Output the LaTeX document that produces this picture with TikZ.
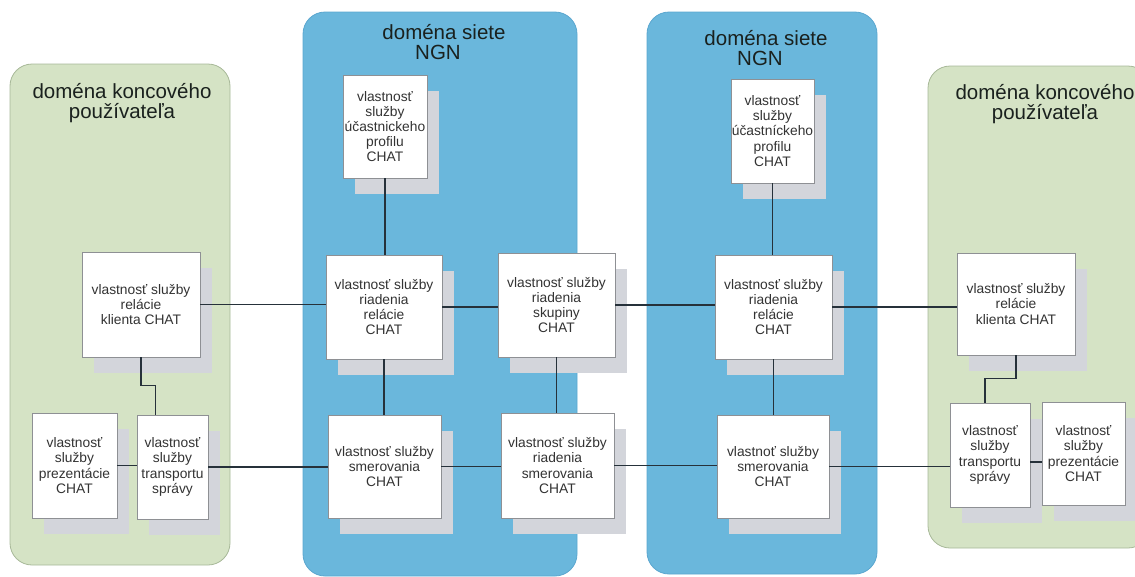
\documentclass[tikz,border=0pt]{standalone}
\usepackage{fontspec}
\setmainfont{Liberation Sans}
\usetikzlibrary{shadows}

\definecolor{userfill}{HTML}{D5E3C5}
\definecolor{userline}{HTML}{A7B898}
\definecolor{netfill}{HTML}{6AB7DC}
\definecolor{netline}{HTML}{5AA6CF}
\definecolor{shadowgray}{HTML}{D3D5DB}
\definecolor{boxline}{HTML}{8E9094}
\definecolor{wire}{HTML}{26313A}
\definecolor{boxtext}{HTML}{333333}
\definecolor{titletext}{HTML}{1A211E}

\tikzset{
  userdomain/.style={fill=userfill, draw=userline, line width=0.8pt, rounded corners=22pt},
  netdomain/.style={fill=netfill, draw=netline, line width=0.8pt, rounded corners=22pt},
  domtitle/.style={font=\fontsize{20.5}{20.5}\selectfont, text=titletext, align=center, inner sep=0pt},
  feature/.style={draw=boxline, line width=0.6pt, fill=white, align=center,
    text=boxtext, font=\fontsize{13.8}{15.2}\selectfont, inner sep=0pt,
    drop shadow={shadow xshift=12pt, shadow yshift=-16pt, fill=shadowgray, draw=none, opacity=1}},
  link/.style={draw=wire, line width=1.5pt}
}

\begin{document}
\begin{tikzpicture}[x=1pt, y=-1pt]
  \useasboundingbox (0,0) rectangle (1135,576);
  \clip (0,0) rectangle (1135,576);

  % domains
  \draw[userdomain] (10,64) rectangle (230,565);
  \draw[netdomain] (303,12) rectangle (577,576);
  \draw[netdomain] (647,12) rectangle (877,574);
  \draw[userdomain] (928,66) rectangle (1150,548);

  \node[domtitle] (tuserL) at (122,103) {doména koncového\\používateľa};
  \node[domtitle] (tnetA) at (444,42) {doména siete\\NGN\hspace*{12pt}};
  \node[domtitle] (tnetB) at (766,48) {doména siete\\NGN\hspace*{12pt}};
  \node[domtitle] (tuserR) at (1045,104) {doména koncového\\používateľa};

  % left end-user domain
  \node[feature, minimum width=118pt, minimum height=105pt] (lrel) at (141,304.5)
    {vlastnosť služby\\relácie\\klienta CHAT};
  \node[feature, minimum width=85pt, minimum height=105pt] (lprez) at (74.5,465.5)
    {vlastnosť\\služby\\prezentácie\\CHAT};
  \node[feature, minimum width=71pt, minimum height=104pt] (ltrans) at (172.5,467)
    {vlastnosť\\služby\\transportu\\správy};

  % first NGN domain
  \node[feature, minimum width=84pt, minimum height=103pt] (aprof) at (385,126.5)
    {vlastnosť\\služby\\účastnickeho\\profilu\\CHAT};
  \node[feature, minimum width=116pt, minimum height=104pt] (arel) at (384,307)
    {vlastnosť služby\\riadenia\\relácie\\CHAT};
  \node[feature, minimum width=117pt, minimum height=104pt] (askup) at (556.5,305)
    {vlastnosť služby\\riadenia\\skupiny\\CHAT};
  \node[feature, minimum width=113pt, minimum height=103pt] (asmer) at (384.5,466.5)
    {vlastnosť služby\\smerovania\\CHAT};
  \node[feature, minimum width=113pt, minimum height=105pt] (arsmer) at (557.5,465.5)
    {vlastnosť služby\\riadenia\\smerovania\\CHAT};

  % second NGN domain
  \node[feature, minimum width=83pt, minimum height=104pt] (bprof) at (772.5,131)
    {vlastnosť\\služby\\účastníckeho\\profilu\\CHAT};
  \node[feature, minimum width=117pt, minimum height=104pt] (brel) at (773.5,307)
    {vlastnosť služby\\riadenia\\relácie\\CHAT};
  \node[feature, minimum width=112pt, minimum height=103pt] (bsmer) at (773,466.5)
    {vlastnoť služby\\smerovania\\CHAT};

  % right end-user domain
  \node[feature, minimum width=118pt, minimum height=102pt] (rrel) at (1016,304)
    {vlastnosť služby\\relácie\\klienta CHAT};
  \node[feature, minimum width=80pt, minimum height=104pt] (rtrans) at (990,455)
    {vlastnosť\\služby\\transportu\\správy};
  \node[feature, minimum width=83pt, minimum height=103pt] (rprez) at (1083.5,453.5)
    {vlastnosť\\služby\\prezentácie\\CHAT};

  % vertical links
  \draw[link] (lrel.south) -- ++(0,28) -| ([xshift=-17pt]ltrans.north);
  \draw[link] (aprof.south) -- (aprof.south |- arel.north);
  \draw[link] (arel.south) -- (arel.south |- asmer.north);
  \draw[link] (askup.south) -- (askup.south |- arsmer.north);
  \draw[link] (bprof.south) -- (bprof.south |- brel.north);
  \draw[link] (brel.south) -- (brel.south |- bsmer.north);
  \draw[link] (rrel.south) -- ++(0,23) -| ([xshift=-5pt]rtrans.north);

  % session level links
  \draw[link] (lrel.east) -- (lrel.east -| arel.west);
  \draw[link] (arel.east) -- (arel.east -| askup.west);
  \draw[link] (askup.east) -- (askup.east -| brel.west);
  \draw[link] (brel.east) -- (brel.east -| rrel.west);

  % routing level links
  \draw[link] (lprez.east) -- (lprez.east -| ltrans.west);
  \draw[link] (ltrans.east) -- (ltrans.east -| asmer.west);
  \draw[link] (asmer.east) -- (asmer.east -| arsmer.west);
  \draw[link] (arsmer.east) -- (arsmer.east -| bsmer.west);
  \draw[link] (bsmer.east) -- (bsmer.east -| rtrans.west);
  \draw[link] ([yshift=-7pt]rtrans.east) -- ([yshift=-7pt]rtrans.east -| rprez.west);
\end{tikzpicture}
\end{document}
